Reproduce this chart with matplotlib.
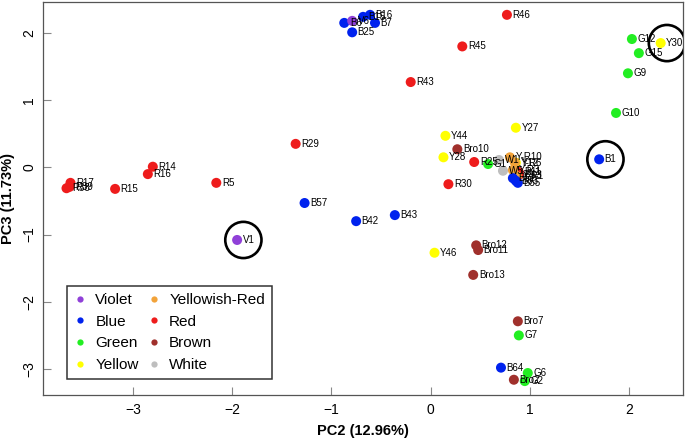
import numpy as np
import matplotlib
matplotlib.use('Agg')
import matplotlib.pyplot as plt
from matplotlib.lines import Line2D
from matplotlib.transforms import offset_copy

plt.rcParams['font.family'] = ['Liberation Sans', 'DejaVu Sans']

# ---------------- data (PC2, PC3 scores per sample) ----------------
groups = ['Violet', 'Blue', 'Green', 'Yellow', 'Yellowish-Red', 'Red', 'Brown', 'White']
colors = {'Violet': '#9040D8', 'Blue': '#0022EE', 'Green': '#22EE22', 'Yellow': '#FFFF00',
          'Yellowish-Red': '#F2A33A', 'Red': '#EE1C1C', 'Brown': '#A0302C', 'White': '#BEBEBE'}

white_lab = ['W1', 'W5']
white_pc2 = [0.69, 0.73]
white_pc3 = [0.11, -0.05]

brown_lab = ['Bro10', 'Bro12', 'Bro11', 'Bro13', 'Bro7', 'Bro2']
brown_pc2 = [0.27, 0.46, 0.48, 0.43, 0.88, 0.84]
brown_pc3 = [0.27, -1.16, -1.23, -1.60, -2.29, -3.16]

red_lab = ['R46', 'R45', 'R43', 'R29', 'R14', 'R16', 'R5', 'R15', 'R17', 'R39', 'R38',
           'R25', 'R30', 'R11', 'R13']
red_pc2 = [0.77, 0.32, -0.20, -1.36, -2.80, -2.85, -2.16, -3.18, -3.63, -3.64, -3.67,
           0.44, 0.18, 0.89, 0.89]
red_pc3 = [2.27, 1.80, 1.27, 0.35, 0.01, -0.10, -0.23, -0.32, -0.23, -0.29, -0.31,
           0.08, -0.25, -0.07, -0.11]

yellow_lab = ['Y30', 'Y27', 'Y44', 'Y28', 'Y46', 'Y12']
yellow_pc2 = [2.32, 0.86, 0.15, 0.13, 0.04, 0.86]
yellow_pc3 = [1.85, 0.59, 0.47, 0.15, -1.27, 0.07]

yr_lab = ['Y-R10', 'Y-R6', 'Y-R3', 'Y-R1']
yr_pc2 = [0.80, 0.85, 0.83, 0.87]
yr_pc3 = [0.15, 0.07, -0.04, -0.13]

green_lab = ['G12', 'G15', 'G9', 'G10', 'G1', 'G7', 'G6', 'G2']
green_pc2 = [2.03, 2.10, 1.99, 1.87, 0.58, 0.89, 0.98, 0.95]
green_pc3 = [1.91, 1.70, 1.40, 0.81, 0.05, -2.50, -3.06, -3.18]

blue_lab = ['B6', 'B15', 'B16', 'B7', 'B25', 'B1', 'B57', 'B42', 'B43', 'B64', 'B51', 'B53', 'B55']
blue_pc2 = [-0.87, -0.68, -0.61, -0.56, -0.79, 1.70, -1.27, -0.75, -0.36, 0.71, 0.83, 0.86, 0.88]
blue_pc3 = [2.15, 2.24, 2.27, 2.15, 2.01, 0.12, -0.53, -0.80, -0.71, -2.98, -0.16, -0.20, -0.23]

violet_lab = ['V1', 'V6']
violet_pc2 = [-1.95, -0.79]
violet_pc3 = [-1.08, 2.18]

# samples highlighted with a ring
circled = ['V1', 'B1', 'Y30']

draw_order = [('White', white_lab, white_pc2, white_pc3),
              ('Brown', brown_lab, brown_pc2, brown_pc3),
              ('Red', red_lab, red_pc2, red_pc3),
              ('Yellow', yellow_lab, yellow_pc2, yellow_pc3),
              ('Yellowish-Red', yr_lab, yr_pc2, yr_pc3),
              ('Green', green_lab, green_pc2, green_pc3),
              ('Blue', blue_lab, blue_pc2, blue_pc3),
              ('Violet', violet_lab, violet_pc2, violet_pc3)]

# ---------------- plot ----------------
fig = plt.figure(figsize=(6.85, 4.40), dpi=100)
ax = fig.add_axes([43/685, 45/440, 640/685, 393/440])

pos = {}
for g, lab, x, y in draw_order:
    ax.scatter(x, y, s=52, color=colors[g], edgecolors='none', zorder=3)
    for l, xi, yi in zip(lab, x, y):
        ax.annotate(l, (xi, yi), xytext=(4, 0), textcoords='offset points',
                    ha='left', va='center', fontsize=7, zorder=4)
        pos[l] = (xi, yi)

ring_tr = offset_copy(ax.transData, fig=fig, x=4.5, y=0, units='points')
for c in circled:
    ax.scatter([pos[c][0]], [pos[c][1]], s=680, facecolors='none', edgecolors='black',
               linewidths=1.9, transform=ring_tr, zorder=5)

ax.set_xlim(-3.907, 2.545)
ax.set_ylim(-3.387, 2.461)
ax.set_xticks([-3, -2, -1, 0, 1, 2])
ax.set_yticks([-3, -2, -1, 0, 1, 2])
ax.set_xticklabels(['\u22123', '\u22122', '\u22121', '0', '1', '2'])
ax.set_yticklabels(['\u22123', '\u22122', '\u22121', '0', '1', '2'], rotation=90, va='center')
ax.tick_params(axis='both', direction='in', length=6, width=0.8, color='#888888', labelsize=10)
ax.tick_params(axis='x', pad=6)
ax.tick_params(axis='y', pad=5)
for sp in ax.spines.values():
    sp.set_color('#555555')
    sp.set_linewidth(0.9)

ax.set_xlabel('PC2 (12.96%)', fontsize=10.5, fontweight='bold', labelpad=5)
ax.set_ylabel('PC3 (11.73%)', fontsize=10.5, fontweight='bold', labelpad=5)

leg_order = ['Violet', 'Blue', 'Green', 'Yellow', 'Yellowish-Red', 'Red', 'Brown', 'White']
handles = [Line2D([], [], marker='o', linestyle='none', markersize=4.5,
                  markerfacecolor=colors[g], markeredgecolor='none', label=g) for g in leg_order]
leg = ax.legend(handles=handles, ncol=2, loc='lower left', bbox_to_anchor=(0.0375, 0.041),
                borderaxespad=0, fontsize=11, frameon=True, fancybox=False,
                handlelength=0.8, handletextpad=0.6, columnspacing=0.6,
                labelspacing=0.5, borderpad=0.45)
leg.get_frame().set_edgecolor('black')
leg.get_frame().set_linewidth(1.1)

fig.savefig('out.png', dpi=100)
